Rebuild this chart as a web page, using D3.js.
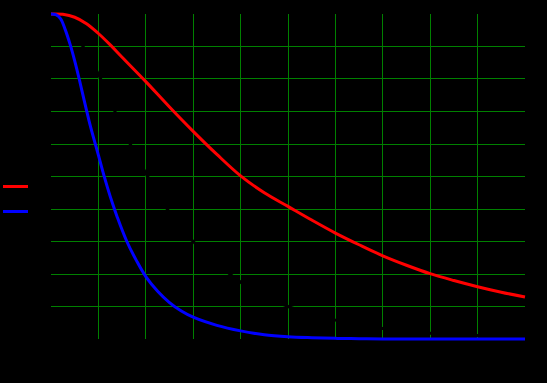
<!DOCTYPE html>
<html>
<head>
<meta charset="utf-8">
<script src="https://cdn.jsdelivr.net/npm/d3@7"></script>
<style>
  html, body { margin: 0; padding: 0; background: #000; }
  svg { display: block; }
</style>
</head>
<body>
<div id="chart"></div>
<script>
// ---- data ----
const redX   = [0, 0.25, 0.5, 0.75, 1.0, 1.25, 1.5, 2.0, 2.5, 3.0, 3.5, 4.0, 4.5, 5.0, 5.5, 6.0, 6.5, 7.0, 7.5, 8.0, 8.5, 9.0, 9.5, 10];
const redY   = [1.0, 0.999, 0.99, 0.97, 0.94, 0.905, 0.867, 0.792, 0.714, 0.639, 0.568, 0.502, 0.45, 0.408, 0.366, 0.326, 0.29, 0.256, 0.227, 0.201, 0.18, 0.161, 0.144, 0.129];

const blueX  = [0, 0.1, 0.2, 0.3, 0.4, 0.5, 0.6, 0.7, 0.8, 0.9, 1.0, 1.1, 1.2, 1.3, 1.4, 1.6, 1.8, 2.0, 2.25, 2.5, 2.75, 3.0, 3.5, 4.0, 4.5, 5.0, 5.5, 6.0, 6.5, 7.0, 8.0, 9.0, 10];
const blueY  = [1.0, 0.998, 0.986, 0.952, 0.908, 0.856, 0.797, 0.734, 0.673, 0.618, 0.566, 0.512, 0.462, 0.416, 0.374, 0.3, 0.242, 0.192, 0.147, 0.112, 0.086, 0.067, 0.042, 0.025, 0.013, 0.007, 0.004, 0.002, 0.001, 0, 0, 0, 0];

// third series drawn in black (only visible where it hides grid lines)
const blackX = [0, 0.25, 0.5, 0.675, 1.0, 1.35, 1.67, 2.0, 2.45, 3.0, 3.5, 4.0, 5.0, 6.0, 7.0, 8.0, 9.0, 10];
const blackY = [1.0, 0.985, 0.945, 0.9, 0.815, 0.7, 0.6, 0.51, 0.4, 0.3, 0.235, 0.175, 0.1, 0.058, 0.032, 0.018, 0.011, 0.007];

const xTicks = [1, 2, 3, 4, 5, 6, 7, 8, 9];
const yTicks = [0.1, 0.2, 0.3, 0.4, 0.5, 0.6, 0.7, 0.8, 0.9];

const seriesColors = ["#ff0000", "#0000ff", "#000000"];

// ---- layout ----
const W = 547, H = 383;
const x = d3.scaleLinear().domain([0, 10]).range([51, 525]);
const y = d3.scaleLinear().domain([0, 1]).range([339, 14]);

const svg = d3.select("#chart").append("svg")
  .attr("width", W).attr("height", H)
  .style("background", "#000");

svg.append("rect").attr("width", W).attr("height", H).attr("fill", "#000");

const grid = svg.append("g").attr("stroke", "#008000").attr("stroke-width", 1).attr("fill", "none");
grid.selectAll("line.v").data(xTicks).enter().append("line")
  .attr("class", "v")
  .attr("x1", d => Math.floor(x(d)) + 0.5).attr("x2", d => Math.floor(x(d)) + 0.5)
  .attr("y1", y(1)).attr("y2", y(0));
grid.selectAll("line.h").data(yTicks).enter().append("line")
  .attr("class", "h")
  .attr("y1", d => Math.floor(y(d)) + 0.5).attr("y2", d => Math.floor(y(d)) + 0.5)
  .attr("x1", x(0)).attr("x2", x(10));

const line = d3.line()
  .x(d => x(d[0])).y(d => y(d[1]))
  .curve(d3.curveCatmullRom.alpha(0.5));

const series = [
  d3.zip(redX, redY),
  d3.zip(blueX, blueY),
  d3.zip(blackX, blackY)
];

// black first, then red and blue on top
[2, 0, 1].forEach(i => {
  svg.append("path")
    .datum(series[i])
    .attr("fill", "none")
    .attr("stroke", seriesColors[i])
    .attr("stroke-width", 3)
    .attr("stroke-linejoin", "round")
    .attr("d", line);
});

// legend
const legend = svg.append("g");
[0, 1, 2].forEach(i => {
  legend.append("line")
    .attr("x1", 3).attr("x2", 28)
    .attr("y1", 186.5 + i * 25).attr("y2", 186.5 + i * 25)
    .attr("stroke", seriesColors[i]).attr("stroke-width", 3);
});
</script>
</body>
</html>
